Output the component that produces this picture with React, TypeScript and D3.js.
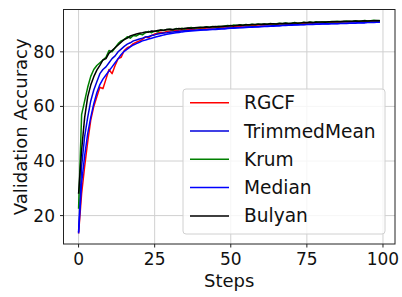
import React from 'react';
import { scaleLinear, line, range } from 'd3';

const steps = range(0, 100);

const rgcf = [
  13.5, 28, 38, 47, 55, 60, 63.5, 67, 66.5, 70,
  73.5, 72, 75, 77.5, 78, 80.5, 81.5, 82, 83, 83.5,
  84, 84.5, 85.5, 85.2, 86, 86.5, 86.8, 87.2, 87, 87.5,
  87.6, 87.8, 87.7, 88, 88.1, 88, 88.3, 88.4, 88.3, 88.5,
  88.6, 88.5, 88.7, 88.8, 88.7, 88.9, 89, 88.9, 89.1, 89.2,
  89.1, 89.3, 89.4, 89.3, 89.5, 89.6, 89.5, 89.7, 89.7, 89.8,
  89.9, 89.8, 90, 90, 90.1, 90, 90.2, 90.2, 90.3, 90.2,
  90.3, 90.4, 90.4, 90.5, 90.4, 90.5, 90.6, 90.6, 90.7, 90.6,
  90.7, 90.8, 90.7, 90.8, 90.9, 90.9, 90.8, 91, 91, 91.1,
  91, 91.1, 91.2, 91.1, 91.2, 91.3, 91.2, 91.3, 91.4, 91.3,
];

const trimmedMean = [
  14, 38, 49, 56, 62, 66, 69, 72, 73.5, 74.5,
  76, 77.5, 78.5, 80, 81, 82, 82.8, 83.3, 84, 84.3,
  84.7, 85, 85.4, 85.6, 86, 86.2, 86.5, 86.7, 86.9, 87,
  87.2, 87.3, 87.4, 87.5, 87.6, 87.7, 87.8, 87.9, 87.9, 88,
  88.1, 88.1, 88.2, 88.3, 88.3, 88.4, 88.5, 88.5, 88.6, 88.7,
  88.7, 88.8, 88.9, 88.9, 89, 89.1, 89.1, 89.2, 89.2, 89.3,
  89.4, 89.4, 89.5, 89.5, 89.6, 89.6, 89.7, 89.7, 89.8, 89.8,
  89.9, 89.9, 90, 90, 90, 90.1, 90.1, 90.2, 90.2, 90.2,
  90.3, 90.3, 90.3, 90.4, 90.4, 90.4, 90.5, 90.5, 90.5, 90.6,
  90.6, 90.6, 90.7, 90.7, 90.7, 90.8, 90.8, 90.8, 90.9, 90.9,
];

const krum = [
  22.5, 57, 62, 67, 71, 73.5, 75, 76, 77, 78,
  80.5, 80, 81.5, 83, 84, 84.5, 85.5, 85, 86, 85.8,
  86.5, 86.2, 87, 87.5, 87, 87.6, 87.3, 88, 87.8, 88.2,
  88.3, 88, 88.5, 88.4, 88.6, 88.3, 88.7, 88.9, 88.6, 88.8,
  89, 88.8, 89.2, 89, 89.3, 89.1, 89.4, 89.2, 89.5, 89.6,
  89.5, 89.8, 89.6, 89.9, 89.7, 90, 89.8, 90.1, 89.9, 90.2,
  90, 90.2, 90.1, 90.4, 90.2, 90.3, 90.5, 90.3, 90.6, 90.4,
  90.5, 90.7, 90.5, 90.6, 90.8, 90.6, 90.9, 90.7, 91, 90.8,
  90.9, 91, 90.8, 91.1, 91, 91.2, 91, 91.1, 91.3, 91.1,
  91.2, 91.4, 91.2, 91.3, 91.5, 91.3, 91.4, 91.6, 91.4, 91.5,
];

const median = [
  13.5, 32, 42, 50, 56, 61, 65, 68, 70, 71.5,
  73, 74.5, 76, 77.5, 79, 80.2, 81, 81.8, 82.5, 83,
  83.5, 84, 84.3, 84.7, 85, 85.3, 85.6, 85.9, 86.2, 86.4,
  86.6, 86.8, 87, 87.1, 87.3, 87.4, 87.5, 87.6, 87.7, 87.8,
  87.9, 88, 88, 88.1, 88.2, 88.2, 88.3, 88.4, 88.4, 88.5,
  88.6, 88.6, 88.7, 88.8, 88.8, 88.9, 89, 89, 89.1, 89.1,
  89.2, 89.3, 89.3, 89.4, 89.4, 89.5, 89.5, 89.6, 89.6, 89.7,
  89.7, 89.8, 89.8, 89.9, 89.9, 90, 90, 90, 90.1, 90.1,
  90.2, 90.2, 90.2, 90.3, 90.3, 90.3, 90.4, 90.4, 90.4, 90.5,
  90.5, 90.5, 90.6, 90.6, 90.6, 90.7, 90.7, 90.7, 90.8, 90.8,
];

const bulyan = [
  28, 44, 56, 63.5, 67.8, 70.9, 73.3, 75, 77, 77.5,
  79.5, 80.5, 81.5, 82.5, 83.5, 84.5, 85, 85.8, 86.2, 86.5,
  86.8, 87, 87.3, 87.2, 87.6, 87.5, 87.8, 88, 87.9, 88.2,
  88.3, 88.2, 88.4, 88.5, 88.4, 88.6, 88.7, 88.6, 88.8, 88.9,
  88.9, 89, 89.1, 89, 89.2, 89.3, 89.2, 89.4, 89.4, 89.5,
  89.6, 89.5, 89.7, 89.8, 89.7, 89.9, 89.9, 90, 90, 90.1,
  90.1, 90.2, 90.1, 90.3, 90.3, 90.2, 90.4, 90.4, 90.5, 90.4,
  90.5, 90.6, 90.5, 90.6, 90.7, 90.7, 90.8, 90.7, 90.8, 90.9,
  90.9, 90.8, 91, 91, 91.1, 91, 91.1, 91.2, 91.1, 91.2,
  91.2, 91.3, 91.2, 91.3, 91.4, 91.3, 91.4, 91.4, 91.5, 91.4,
];

const seriesNames = ['RGCF', 'TrimmedMean', 'Krum', 'Median', 'Bulyan'];
const seriesValues = [rgcf, trimmedMean, krum, median, bulyan];
const seriesColors = ['#ff0000', '#0000dd', '#008000', '#0000ff', '#000000'];

const xTicks = [0, 25, 50, 75, 100];
const yTicks = [20, 40, 60, 80];

const W = 402;
const H = 297;
const plot = { left: 63.5, right: 395, top: 9.5, bottom: 244 };
const font = 'DejaVu Sans, sans-serif';

const App: React.FC = () => {
  const x = scaleLinear().domain([-4.95, 103.95]).range([plot.left, plot.right]);
  const y = scaleLinear().domain([9.6, 95.5]).range([plot.bottom, plot.top]);

  const path = line<number>()
    .x((_, i) => x(steps[i]))
    .y((d) => y(d));

  const legend = { x: 183, y: 89, w: 202, h: 145, row: 28.3 };

  return (
    <svg
      width={W}
      height={H}
      style={{ position: 'fixed', left: 0, top: 0, background: '#fff' }}
      fontFamily={font}
    >
      {/* grid */}
      <g stroke="#d0d0d0" strokeWidth={1}>
        {xTicks.map((t) => (
          <line key={'gx' + t} x1={x(t)} x2={x(t)} y1={plot.top} y2={plot.bottom} />
        ))}
        {yTicks.map((t) => (
          <line key={'gy' + t} x1={plot.left} x2={plot.right} y1={y(t)} y2={y(t)} />
        ))}
      </g>

      <defs>
        <clipPath id="clip">
          <rect x={plot.left} y={plot.top} width={plot.right - plot.left} height={plot.bottom - plot.top} />
        </clipPath>
      </defs>
      <g clipPath="url(#clip)">
        {seriesValues.map((vals, i) => (
          <path
            key={seriesNames[i]}
            d={path(vals) || ''}
            fill="none"
            stroke={seriesColors[i]}
            strokeWidth={1.5}
            strokeLinejoin="round"
          />
        ))}
      </g>

      {/* axes frame */}
      <rect
        x={plot.left}
        y={plot.top}
        width={plot.right - plot.left}
        height={plot.bottom - plot.top}
        fill="none"
        stroke="#222"
        strokeWidth={1}
      />

      {/* x ticks */}
      {xTicks.map((t) => (
        <g key={'xt' + t}>
          <line x1={x(t)} x2={x(t)} y1={plot.bottom} y2={plot.bottom + 3.5} stroke="#222" />
          <text x={x(t)} y={265} fontSize={17} textAnchor="middle" fill="#111">
            {t}
          </text>
        </g>
      ))}
      {/* y ticks */}
      {yTicks.map((t) => (
        <g key={'yt' + t}>
          <line x1={plot.left - 3.5} x2={plot.left} y1={y(t)} y2={y(t)} stroke="#222" />
          <text x={55} y={y(t)} fontSize={17} textAnchor="end" dominantBaseline="central" fill="#111">
            {t}
          </text>
        </g>
      ))}

      <text x={(plot.left + plot.right) / 2} y={287} fontSize={18} textAnchor="middle" fill="#111">
        Steps
      </text>
      <text
        transform={`translate(20, ${(plot.top + plot.bottom) / 2}) rotate(-90)`}
        fontSize={18}
        textAnchor="middle"
        dominantBaseline="central"
        fill="#111"
      >
        Validation Accuracy
      </text>

      {/* legend */}
      <rect
        x={legend.x}
        y={legend.y}
        width={legend.w}
        height={legend.h}
        rx={3}
        fill="#fff"
        fillOpacity={0.8}
        stroke="#d0d0d0"
      />
      {seriesNames.map((name, i) => {
        const ly = 102.7 + i * legend.row;
        return (
          <g key={'lg' + name}>
            <line x1={190} x2={229} y1={ly} y2={ly} stroke={seriesColors[i]} strokeWidth={1.5} />
            <text x={244} y={ly} fontSize={18.6} dominantBaseline="central" fill="#111">
              {name}
            </text>
          </g>
        );
      })}
    </svg>
  );
};

export default App;
